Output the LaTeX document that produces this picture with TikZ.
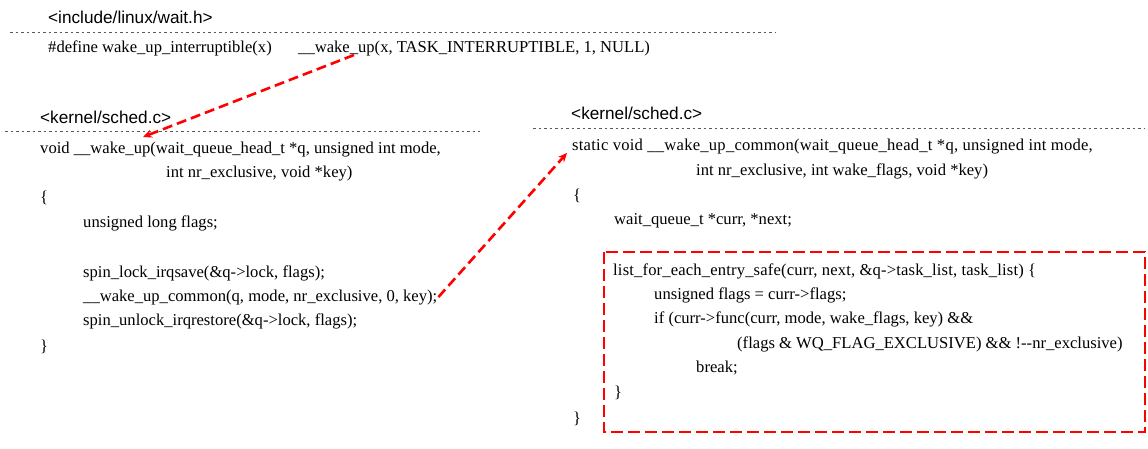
\documentclass[tikz,border=0pt]{standalone}
\usepackage{fontspec}
\setmainfont{Liberation Serif}
\newfontfamily\hdrfont{Liberation Sans}
\usetikzlibrary{calc,arrows.meta}
\begin{document}
\begin{tikzpicture}[x=1pt,y=-1pt,
  code/.style={anchor=base west,inner sep=0pt,font=\fontsize{16.6}{19}\selectfont},
  hdr/.style={anchor=base west,inner sep=0pt,font=\hdrfont\fontsize{17.2}{20}\selectfont},
  sep/.style={draw=black!65,line width=0.6pt,dash pattern=on 2.5pt off 3pt},
  redarrow/.style={draw=red,line width=2.6pt,dash pattern=on 10pt off 5pt,-{Stealth[length=9pt,width=8pt]}},
  redbox/.style={draw=red,line width=2.6pt,dash pattern=on 12pt off 5pt}]
\useasboundingbox (0,0) rectangle (1148,448);
% top file
\node[hdr] (h1) at (48,23) {<include/linux/wait.h>};
\draw[sep] (10,32) -- (775,32);
\node[code] (def) at (48,52) {\#define wake\_up\_interruptible(x)};
\node[code] (wu) at (298,52) {\_\_wake\_up(x, TASK\_INTERRUPTIBLE, 1, NULL)};
% left file
\node[hdr] (h2) at (40,123) {<kernel/sched.c>};
\draw[sep] (5,131) -- (480,131);
\node[code] (l1) at (40,153) {void \_\_wake\_up(wait\_queue\_head\_t *q, unsigned int mode,};
\node[code] (l2) at (166,177) {int nr\_exclusive, void *key)};
\node[code] (l3) at (40,202) {\{};
\node[code] (l4) at (83,227) {unsigned long flags;};
\node[code] (l5) at (83,277) {spin\_lock\_irqsave(\&q->lock, flags);};
\node[code] (l6) at (83,301) {\_\_wake\_up\_common(q, mode, nr\_exclusive, 0, key);};
\node[code] (l7) at (83,325) {spin\_unlock\_irqrestore(\&q->lock, flags);};
\node[code] (l8) at (40,351) {\}};
% right file
\node[hdr] (h3) at (571,119) {<kernel/sched.c>};
\draw[sep] (533,128) -- (1145,128);
\node[code] (r1) at (572,150) {\addfontfeature{LetterSpace=1.4}static void \_\_wake\_up\_common(wait\_queue\_head\_t *q, unsigned int mode,};
\node[code] (r2) at (696,175) {int nr\_exclusive, int wake\_flags, void *key)};
\node[code] (r3) at (573,200) {\{};
\node[code] (r4) at (614,224) {wait\_queue\_t *curr, *next;};
\node[code] (r5) at (613,275) {\addfontfeature{LetterSpace=0.95}list\_for\_each\_entry\_safe(curr, next, \&q->task\_list, task\_list) \{};
\node[code] (r6) at (654,299) {unsigned flags = curr->flags;};
\node[code] (r7) at (654,323) {if (curr->func(curr, mode, wake\_flags, key) \&\&};
\node[code] (r8) at (737,348) {(flags \& WQ\_FLAG\_EXCLUSIVE) \&\& !-{}-nr\_exclusive)};
\node[code] (r9) at (696,372) {break;};
\node[code] (r10) at (614,397) {\}};
\node[code] (r11) at (573,423) {\}};
\draw[redbox] (604,252) rectangle (1145,432);
% connectors
\coordinate (a1s) at ($(wu.base west)+(56,3)$);
\coordinate (a1e) at ($(l1.base west)+(103,-16)$);
\draw[redarrow] (a1s) -- (a1e);
\coordinate (a2s) at ($(l6.base east)+(1,-4)$);
\coordinate (a2e) at ($(r1.base west)+(-5,3)$);
\draw[redarrow] (a2s) -- (a2e);
\end{tikzpicture}
\end{document}
